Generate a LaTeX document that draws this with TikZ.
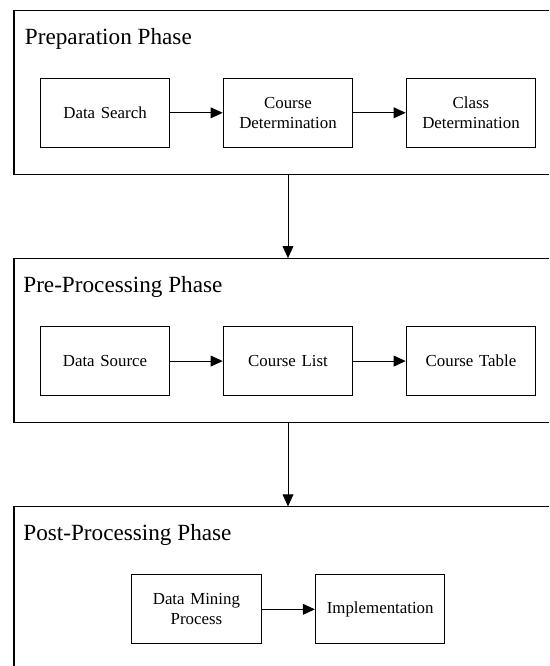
\documentclass[tikz,border=0pt]{standalone}
\usepackage{fontspec}
\setmainfont{Liberation Serif}
\usetikzlibrary{positioning}
\usetikzlibrary{arrows.meta}
\tikzstyle{phase} = [rectangle, draw=black, line width=0.75pt, minimum width=13.7cm, minimum height=4.1cm]
\tikzstyle{phasetitle} = [anchor=base west, inner sep=0pt, font=\fontsize{16.5}{19}\selectfont]
\tikzstyle{stepbox} = [rectangle, draw=black, line width=0.7pt, inner sep=2pt, minimum width=3.24cm, minimum height=1.73cm, text width=3.0cm, align=center, font=\fontsize{12}{14}\selectfont]
\tikzstyle{arrow} = [-{Triangle[length=3mm,width=2.7mm]}, line width=0.7pt]

\begin{document}
\begin{tikzpicture}[node distance=2.08cm]

  \clip (0,0) rectangle (13.725,-16.65);

  % phases
  \node[phase] (prep) at (7.2,-2.31) {};
  \node[phase, below=of prep] (pre) {};
  \node[phase, below=of pre] (post) {};

  \node[phasetitle] (preptitle) at ([xshift=0.28cm,yshift=-0.86cm]prep.north west) {Preparation Phase};
  \node[phasetitle] (pretitle) at ([xshift=0.24cm,yshift=-0.86cm]pre.north west) {Pre-Processing Phase};
  \node[phasetitle] (posttitle) at ([xshift=0.24cm,yshift=-0.86cm]post.north west) {Post-Processing Phase};

  % preparation
  \node[stepbox] (course) at ([yshift=-0.51cm]prep.center) {Course\\Determination};
  \node[stepbox, left=1.31cm of course] (search) {Data Search};
  \node[stepbox, right=1.31cm of course] (class) {Class\\Determination};

  % pre-processing
  \node[stepbox] (list) at ([yshift=-0.51cm]pre.center) {Course List};
  \node[stepbox, left=1.31cm of list] (source) {Data Source};
  \node[stepbox, right=1.31cm of list] (table) {Course Table};

  % post-processing
  \node[stepbox] (mining) at ([xshift=-2.29cm,yshift=-0.51cm]post.center) {Data Mining\\Process};
  \node[stepbox, right=1.33cm of mining] (impl) {Implementation};

  \draw[arrow] (search) -- (course);
  \draw[arrow] (course) -- (class);
  \draw[arrow] (source) -- (list);
  \draw[arrow] (list) -- (table);
  \draw[arrow] (mining) -- (impl);

  \draw[arrow] (prep) -- (pre);
  \draw[arrow] (pre) -- (post);

\end{tikzpicture}
\end{document}
